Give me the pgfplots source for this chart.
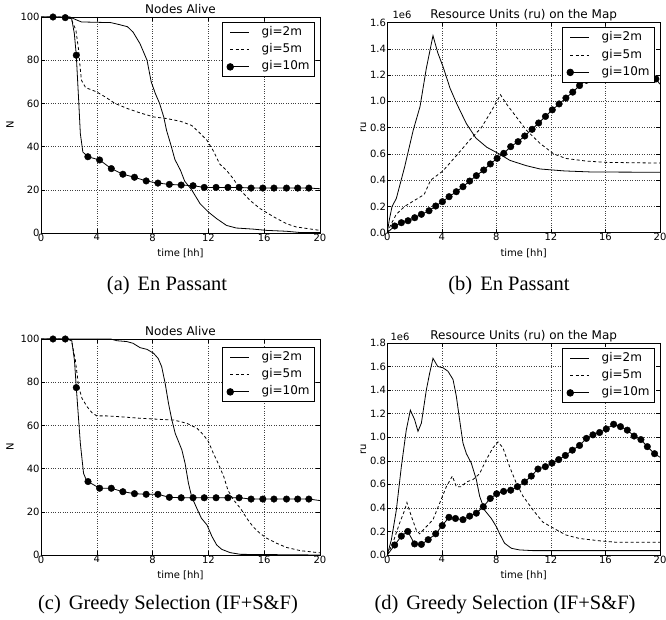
\documentclass[border=0pt]{standalone}
\usepackage{fontspec}
\setmainfont{DejaVu Sans}
\newfontfamily\capfont{Liberation Serif}
\usepackage{pgfplots}
\pgfplotsset{compat=1.18}

\pgfplotsset{
  mpl/.style={
    scale only axis,
    xmin=0, xmax=20, xtick={0,4,...,20},
    grid=major,
    major grid style={dotted, black!75, line width=0.5pt},
    tick align=inside, major tick length=4pt,
    tick style={black, line width=0.5pt},
    axis line style={line width=0.8pt},
    ticklabel style={font=\fontsize{10}{12}\selectfont},
    /pgf/number format/assume math mode=true,
    xticklabel style={anchor=north, inner sep=0.5pt},
    yticklabel style={anchor=east, inner sep=1.2pt},
    xlabel={time [hh]},
    xlabel style={at={(axis description cs:0.5,0)}, anchor=base, yshift=-24pt,
      font=\fontsize{10}{12}\selectfont},
    ylabel style={anchor=center, font=\fontsize{10}{12}\selectfont},
    legend cell align=left,
    legend style={at={(rel axis cs:1,1)}, anchor=north east, xshift=-5pt, yshift=-5pt,
      draw=black, line width=0.8pt, fill=white, inner xsep=4pt, inner ysep=2pt,
      font=\fontsize{12}{14}\selectfont, row sep=1.5pt,
      nodes={inner xsep=1pt, inner ysep=2pt, text height=9pt, text depth=2.8pt},
      /tikz/every odd column/.append style={column sep=11pt}},
    legend image code/.code={\draw[#1] (0pt,0pt) -- (19pt,0pt);},
  },
  ru/.style={
    ylabel={ru}, ylabel style={at={(axis description cs:-0.088,0.5)}},
    yticklabel style={/pgf/number format/.cd, fixed, fixed zerofill, precision=1},
  },
  alive/.style={
    ymin=0, ymax=100, ytick={0,20,...,100},
    ylabel={N}, ylabel style={at={(axis description cs:-0.111,0.5)}},
  },
  s2/.style={black, line width=0.8pt},
  s5/.style={black, line width=0.8pt, dash pattern=on 3pt off 2.5pt},
  s10/.style={black, line width=0.8pt},
  dots/.style={black, only marks, mark=*, mark size=3.3pt},
  dotleg/.style={legend image code/.code={
    \draw[black, line width=0.8pt] (0pt,0pt) -- (19pt,0pt);
    \fill[black] (0pt,0pt) circle[radius=3.3pt];}},
}
\tikzset{
  ttl/.style={anchor=base, inner sep=0pt, font=\fontsize{12}{14}\selectfont},
  offs/.style={anchor=base west, inner sep=0pt, font=\fontsize{10}{12}\selectfont},
}

\begin{document}
\begin{tikzpicture}
\useasboundingbox (0pt,0pt) rectangle (666pt,620pt);

% (a) nodes alive, en passant
\begin{axis}[mpl, alive, name=pa, at={(41pt,387pt)}, anchor=south west, width=279pt, height=216pt]
\addplot[s2] coordinates {
  (0,100) (2.0,100) (2.2,99.6) (2.6,98.5) (2.9,97.7) (5.0,97.4) (5.6,96.5) (6.2,95.5)
  (6.6,93) (7.1,87.6) (7.6,80) (7.9,70) (8.2,64.5) (8.5,60) (8.8,53.7) (9.0,47.5)
  (9.3,41) (9.6,34) (10.0,29) (10.3,24) (10.8,20) (11.4,13.6) (12.0,9.7) (12.6,6.6)
  (13.3,3.5) (14.0,2.3) (15.2,1.8) (16.2,1.2) (17.6,0.8) (18.6,0.2) (20,0.2)};
\addlegendentry{gi=2m}
\addplot[s5] coordinates {
  (0,100) (2.1,100) (2.5,94) (2.7,84.6) (2.8,77) (2.9,70.7) (3.2,67.3) (4.0,65.3)
  (4.6,63) (5.3,60) (6.2,57.6) (7.1,55.6) (8.1,53.7) (9.0,53) (10.0,51.7) (10.8,49.8)
  (11.3,46.8) (11.9,42.9) (12.4,37.5) (12.8,32) (13.3,29) (13.8,25) (14.3,19.8)
  (15.0,15) (15.7,11.3) (16.7,7.4) (17.6,4.3) (18.3,2.8) (20,1.2)};
\addlegendentry{gi=5m}
\addplot[s10, forget plot] coordinates {
  (0,100) (0.86,100) (1.74,99.7) (2.2,99.2) (2.39,92.3) (2.53,82.3) (2.7,61.4)
  (2.82,46) (3.0,37.5) (3.36,35.3) (4.2,33.8) (5.04,29.8) (5.87,27.2) (6.7,25.8)
  (7.54,24.1) (8.38,23.1) (9.2,22.5) (10.05,22.2) (10.9,21.9) (11.7,21.1) (12.55,21.1)
  (13.4,21.1) (14.2,21.1) (15.06,20.8) (19.2,20.8) (20,20.5)};
\addplot[dots, forget plot] coordinates {
  (0.86,100) (1.74,99.7) (2.53,82.3) (3.36,35.3) (4.2,33.8) (5.04,29.8) (5.87,27.2)
  (6.7,25.8) (7.54,24.1) (8.38,23.1) (9.2,22.5) (10.05,22.2) (10.9,21.9) (11.7,21.1)
  (12.55,21.1) (13.4,21.1) (14.2,21.1) (15.06,20.8) (15.9,20.8) (16.7,20.8)
  (17.6,20.8) (18.4,20.8) (19.2,20.8)};
\addlegendimage{dotleg}
\addlegendentry{gi=10m}
\end{axis}
\node[ttl] at ([yshift=3pt]pa.north) {Nodes Alive};

% (b) resource units, en passant
\begin{axis}[mpl, ru, name=pb, at={(387.3pt,387.3pt)}, anchor=south west, width=272.7pt, height=210.2pt,
  ymin=0, ymax=1.6, ytick={0,0.2,...,1.6}]
\addplot[s2] coordinates {
  (0,0) (0.15,0.1) (0.35,0.2) (0.66,0.26) (1.27,0.5) (1.9,0.78) (2.4,0.96) (2.86,1.25)
  (3.35,1.5) (3.7,1.37) (4.1,1.26) (4.6,1.1) (5.1,0.98) (5.8,0.83) (6.5,0.72)
  (7.3,0.65) (8.2,0.6) (9.0,0.55) (10.2,0.51) (11.2,0.485) (13,0.47) (15,0.462) (20,0.46)};
\addlegendentry{gi=2m}
\addplot[s5] coordinates {
  (0,0) (0.3,0.07) (0.66,0.14) (1.27,0.2) (1.9,0.24) (2.7,0.29) (3.18,0.4) (4.08,0.47)
  (5.18,0.6) (6.0,0.7) (6.9,0.8) (7.6,0.92) (8.3,1.05) (8.74,0.98) (9.47,0.88)
  (10.2,0.78) (11.2,0.68) (12.2,0.6) (13.1,0.565) (14.6,0.545) (16.1,0.535) (20,0.53)};
\addlegendentry{gi=5m}
\addplot[s10, forget plot] coordinates {
  (0,0) (0.54,0.051) (1.03,0.076) (1.52,0.091) (2.01,0.114) (2.5,0.14) (3.06,0.167)
  (3.55,0.203) (4.04,0.236) (4.53,0.274) (5.06,0.312) (5.55,0.35) (6.04,0.393)
  (6.53,0.434) (7.07,0.477) (7.56,0.523) (8.05,0.566) (8.54,0.604) (9.05,0.655)
  (9.59,0.693) (10.08,0.736) (10.62,0.787) (11.1,0.835) (11.6,0.885) (12.1,0.935)
  (12.6,0.98) (13.1,1.025) (13.6,1.07) (14.1,1.12) (14.6,1.16) (15.1,1.2) (15.6,1.23)
  (16.1,1.25) (16.6,1.26) (17.1,1.265) (17.6,1.26) (18.1,1.25) (18.6,1.23) (19.1,1.2)
  (19.7,1.17) (20,1.13)};
\addplot[dots, forget plot] coordinates {
  (0.54,0.051) (1.03,0.076) (1.52,0.091) (2.01,0.114) (2.5,0.14) (3.06,0.167)
  (3.55,0.203) (4.04,0.236) (4.53,0.274) (5.06,0.312) (5.55,0.35) (6.04,0.393)
  (6.53,0.434) (7.07,0.477) (7.56,0.523) (8.05,0.566) (8.54,0.604) (9.05,0.655)
  (9.59,0.693) (10.08,0.736) (10.62,0.787) (11.1,0.835) (11.6,0.885) (12.1,0.935)
  (12.6,0.98) (13.1,1.025) (13.6,1.07) (14.1,1.12) (14.6,1.16) (15.1,1.2) (15.6,1.23)
  (16.1,1.25) (16.6,1.26) (17.1,1.265) (17.6,1.26) (18.1,1.25) (18.6,1.23) (19.1,1.2)
  (19.7,1.17)};
\addlegendimage{dotleg}
\addlegendentry{gi=10m}
\end{axis}
\node[ttl] at ([yshift=3.5pt]pb.north) {Resource Units (ru) on the Map};
\node[offs] at ([xshift=5pt, yshift=3.5pt]pb.north west) {1e6};

% (c) nodes alive, greedy selection
\begin{axis}[mpl, alive, name=pc, at={(41pt,65pt)}, anchor=south west, width=279pt, height=216pt,
  legend style={yshift=-3pt}]
\addplot[s2] coordinates {
  (0,100) (5.0,100) (5.44,99.2) (6.16,98.8) (6.6,98) (7.1,96) (7.6,95.2) (8.07,93.4)
  (8.4,91) (8.65,87.2) (8.9,79.5) (9.14,70.2) (9.38,62.5) (9.62,56.3) (9.86,52.5)
  (10.1,48.6) (10.33,42.4) (10.57,33.2) (10.8,27) (11.17,21.6) (11.5,17) (11.9,13.9)
  (12.26,8.5) (12.6,4.6) (12.96,2.6) (13.56,1.1) (14.3,0.3) (20,0)};
\addlegendentry{gi=2m}
\addplot[s5] coordinates {
  (0,100) (1.98,100) (2.2,98.8) (2.46,90.3) (2.7,77.9) (2.94,72.5) (3.3,68.7)
  (3.65,65.9) (4.0,64.4) (4.7,64.4) (5.68,64) (7.1,63.3) (8.5,62.8) (9.5,62.5)
  (10.45,61) (11.2,58.6) (11.65,55.6) (12.0,52.5) (12.36,47) (12.7,42.4) (13.1,36.3)
  (13.4,30) (13.8,25.5) (14.3,21.6) (14.75,17) (15.2,13.1) (15.7,10) (16.2,7.7)
  (16.9,5.4) (17.6,3.5) (18.6,2) (20,1)};
\addlegendentry{gi=5m}
\addplot[s10, forget plot] coordinates {
  (0,100) (0.86,100) (1.74,100) (2.2,99.5) (2.4,90) (2.53,77.5) (2.82,51.7)
  (3.05,37.8) (3.25,34.7) (3.37,34) (4.2,30.9) (5.04,30.9) (5.87,29.3) (6.7,28.4)
  (7.54,28.1) (8.38,28.1) (9.2,26.7) (10.05,26.5) (14.2,26.5) (15.06,25.9) (19.2,25.9)
  (20,25.2)};
\addplot[dots, forget plot] coordinates {
  (0.86,100) (1.74,100) (2.53,77.5) (3.37,34) (4.2,30.9) (5.04,30.9) (5.87,29.3)
  (6.7,28.4) (7.54,28.1) (8.38,28.1) (9.2,26.7) (10.05,26.5) (10.9,26.5) (11.7,26.5)
  (12.55,26.5) (13.4,26.5) (14.2,26.5) (15.06,25.9) (15.9,25.9) (16.7,25.9)
  (17.6,25.9) (18.4,25.9) (19.2,25.9)};
\addlegendimage{dotleg}
\addlegendentry{gi=10m}
\end{axis}
\node[ttl] at ([yshift=3pt]pc.north) {Nodes Alive};

% (d) resource units, greedy selection
\begin{axis}[mpl, ru, name=pd, at={(387.3pt,65pt)}, anchor=south west, width=272.7pt, height=212pt,
  ymin=0, ymax=1.8, ytick={0,0.2,...,1.8}]
\addplot[s2] coordinates {
  (0,0) (0.3,0.13) (0.66,0.38) (1.03,0.75) (1.39,1.06) (1.69,1.23) (2.0,1.15)
  (2.25,1.05) (2.5,1.12) (2.86,1.40) (3.1,1.54) (3.35,1.67) (3.7,1.6) (4.08,1.59)
  (4.45,1.56) (4.82,1.49) (5.06,1.35) (5.3,1.15) (5.55,0.95) (5.8,0.86) (6.16,0.78)
  (6.53,0.64) (6.77,0.5) (7.14,0.38) (7.63,0.31) (8.0,0.24) (8.24,0.18) (8.6,0.1)
  (9.1,0.057) (9.7,0.043) (10.7,0.037) (20,0.037)};
\addlegendentry{gi=2m}
\addplot[s5] coordinates {
  (0,0) (0.4,0.1) (0.9,0.27) (1.27,0.38) (1.44,0.445) (1.76,0.33) (2.13,0.21)
  (2.37,0.18) (2.86,0.24) (3.35,0.3) (3.84,0.44) (4.33,0.58) (4.77,0.67) (5.06,0.58)
  (5.43,0.58) (5.8,0.62) (6.28,0.64) (6.77,0.69) (7.26,0.81) (7.75,0.91) (8.12,0.96)
  (8.48,0.91) (8.97,0.75) (9.46,0.61) (9.95,0.5) (10.7,0.38) (11.4,0.28) (12.15,0.23)
  (13.1,0.17) (14.1,0.14) (15.6,0.12) (16.8,0.108) (20,0.108)};
\addlegendentry{gi=5m}
\addplot[s10, forget plot] coordinates {
  (0,0) (0.54,0.085) (1.03,0.16) (1.5,0.2) (2.0,0.094) (2.5,0.09) (3.0,0.13)
  (3.55,0.18) (4.03,0.25) (4.52,0.32) (5.0,0.31) (5.55,0.30) (6.04,0.33) (6.53,0.355)
  (7.04,0.41) (7.55,0.48) (8.02,0.52) (8.53,0.54) (9.05,0.55) (9.54,0.58) (10.07,0.62)
  (10.56,0.67) (11.05,0.73) (11.59,0.75) (12.08,0.78) (12.57,0.81) (13.06,0.845)
  (13.57,0.89) (14.1,0.93) (14.6,0.99) (15.08,1.02) (15.57,1.04) (16.06,1.07)
  (16.6,1.11) (17.1,1.09) (17.6,1.06) (18.1,1.01) (18.6,0.98) (19.07,0.92)
  (19.6,0.86) (20,0.83)};
\addplot[dots, forget plot] coordinates {
  (0.54,0.085) (1.03,0.16) (1.5,0.2) (2.0,0.094) (2.5,0.09) (3.0,0.13)
  (3.55,0.18) (4.03,0.25) (4.52,0.32) (5.0,0.31) (5.55,0.30) (6.04,0.33) (6.53,0.355)
  (7.04,0.41) (7.55,0.48) (8.02,0.52) (8.53,0.54) (9.05,0.55) (9.54,0.58) (10.07,0.62)
  (10.56,0.67) (11.05,0.73) (11.59,0.75) (12.08,0.78) (12.57,0.81) (13.06,0.845)
  (13.57,0.89) (14.1,0.93) (14.6,0.99) (15.08,1.02) (15.57,1.04) (16.06,1.07)
  (16.6,1.11) (17.1,1.09) (17.6,1.06) (18.1,1.01) (18.6,0.98) (19.07,0.92) (19.6,0.86)};
\addlegendimage{dotleg}
\addlegendentry{gi=10m}
\end{axis}
\node[ttl] at ([yshift=3.5pt]pd.north) {Resource Units (ru) on the Map};
\node[offs] at ([xshift=3pt, yshift=2pt]pd.north west) {1e6};

% captions
\begin{scope}[every node/.style={anchor=base, inner sep=0pt, font=\capfont\fontsize{20.5}{24}\selectfont}]
\node at (167pt,329.3pt) {(a)\hspace{8pt}En Passant};
\node at (509pt,329.3pt) {(b)\hspace{8pt}En Passant};
\node at (168pt,10pt) {(c)\hspace{8pt}Greedy Selection (IF+S\&F)};
\node at (505pt,10pt) {(d)\hspace{8pt}Greedy Selection (IF+S\&F)};
\end{scope}
\end{tikzpicture}
\end{document}
